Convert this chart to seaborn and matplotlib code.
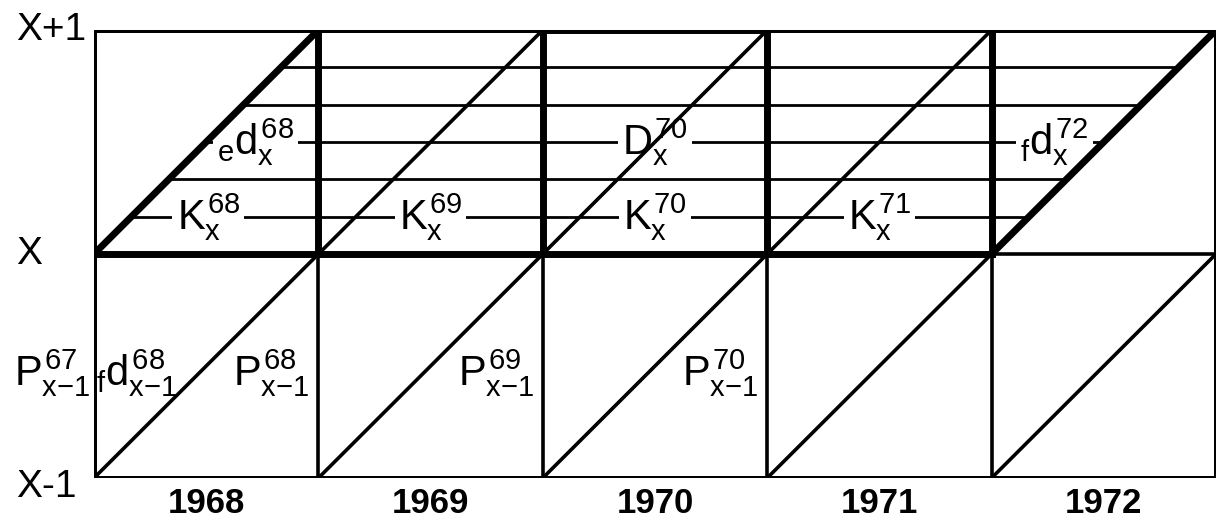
import numpy as np
import pandas as pd
import matplotlib
matplotlib.use("Agg")
import matplotlib.pyplot as plt
import seaborn as sns

# ──────────────────────────────────────────────
# Data: Lexis diagram, calendar years x ages
# ──────────────────────────────────────────────
years = [1968, 1969, 1970, 1971, 1972]
age_values = [-1, 0, 1]
age_labels = ["X-1", "X", "X+1"]
hatch_levels = [1 / 6, 2 / 6, 3 / 6, 4 / 6, 5 / 6]
thick_diag_years = [1968, 1972]

# labels inside the upper band (text, year position, age level)
upper_text = [r"${}_{e}d_{x}^{68}$", r"$K_{x}^{68}$", r"$K_{x}^{69}$", r"$K_{x}^{70}$",
              r"$K_{x}^{71}$", r"$D_{x}^{70}$", r"${}_{f}d_{x}^{72}$"]
upper_year = [1968.72, 1968.51, 1969.50, 1970.50, 1971.50, 1970.50, 1972.28]
upper_level = [3 / 6, 1 / 6, 1 / 6, 1 / 6, 1 / 6, 3 / 6, 3 / 6]

# labels in the lower band
lower_text = [r"${}_{f}d_{x{-}1}^{68}$", r"$P_{x{-}1}^{68}$", r"$P_{x{-}1}^{69}$", r"$P_{x{-}1}^{70}$"]
lower_year = [1968.19, 1968.79, 1969.79, 1970.79]
left_text = r"$P_{x{-}1}^{67}$"

# ──────────────────────────────────────────────
# Fonts
# ──────────────────────────────────────────────
sns.set_style("white")
fam = "Liberation Sans"
plt.rcParams["font.family"] = [fam, "DejaVu Sans"]
plt.rcParams["text.color"] = "black"
plt.rcParams["mathtext.fontset"] = "custom"
plt.rcParams["mathtext.rm"] = fam
plt.rcParams["mathtext.it"] = fam
plt.rcParams["mathtext.bf"] = fam + ":bold"

# ──────────────────────────────────────────────
# Segments
# ──────────────────────────────────────────────
rows = []
def seg(x0, y0, x1, y1, w):
    k = len(rows) // 2
    rows.append({"seg": k, "x": x0, "y": y0, "w": w})
    rows.append({"seg": k, "x": x1, "y": y1, "w": w})

x_end = years[-1] + 1
seg(years[0], -1, years[0], 1, "mid")
seg(x_end, -1, x_end, 1, "mid")
seg(years[0], -1, x_end, -1, "mid")
for yr in years:
    seg(yr, 1, yr + 1, 1, "thick" if yr == 1970 else "mid")
    seg(yr, 0, yr + 1, 0, "thin" if yr == years[-1] else "thick")
    seg(yr, -1, yr + 1, 0, "thin")
    seg(yr, 0, yr + 1, 1, "thick" if yr in thick_diag_years else "thin")
    if yr != years[0]:
        seg(yr, 0, yr, 1, "thick")
        seg(yr, -1, yr, 0, "thin")
frame = pd.DataFrame(rows)

rows = []
for h in hatch_levels:
    seg(years[0] + h, h, years[-1] + h, h, "hatch")
hatch = pd.DataFrame(rows)

widths = {"hatch": 2.0, "thin": 2.6, "mid": 3.6, "thick": 5.0}

fig = plt.figure(figsize=(12.21, 5.24), dpi=100)
ax = fig.add_axes([94 / 1221, 46 / 524, 1122 / 1221, 448 / 524])

sns.lineplot(data=hatch, x="x", y="y", units="seg", estimator=None, size="w",
             sizes=widths, color="black", legend=False, sort=False, ax=ax,
             zorder=1, solid_capstyle="butt")
sns.lineplot(data=frame, x="x", y="y", units="seg", estimator=None, size="w",
             sizes=widths, color="black", legend=False, sort=False, ax=ax,
             zorder=3, solid_capstyle="projecting")

ax.set_xlim(years[0], x_end)
ax.set_ylim(-1, 1)
ax.axis("off")

fs = 30
box = dict(facecolor="white", edgecolor="none", pad=3)
for t, xv, lv in zip(upper_text, upper_year, upper_level):
    ax.text(xv, lv, t, fontsize=fs, ha="center", va="center", bbox=box, zorder=2)
for t, xv in zip(lower_text, lower_year):
    ax.text(xv, -0.53, t, fontsize=fs, ha="center", va="center", zorder=2)
ax.text(-0.071, -0.53, left_text, fontsize=fs, ha="left", va="center",
        transform=ax.get_yaxis_transform(), zorder=2)

for a, lab in zip(age_values, age_labels):
    ax.text(-0.069, a + (-0.04 if a == -1 else 0.0), lab, fontsize=28,
            ha="left", va="center", transform=ax.get_yaxis_transform())

for yr in years:
    ax.text(yr + 0.5, -1.04, str(yr), fontsize=25, fontweight="bold",
            ha="center", va="top")

plt.savefig("out.png", dpi=100)
